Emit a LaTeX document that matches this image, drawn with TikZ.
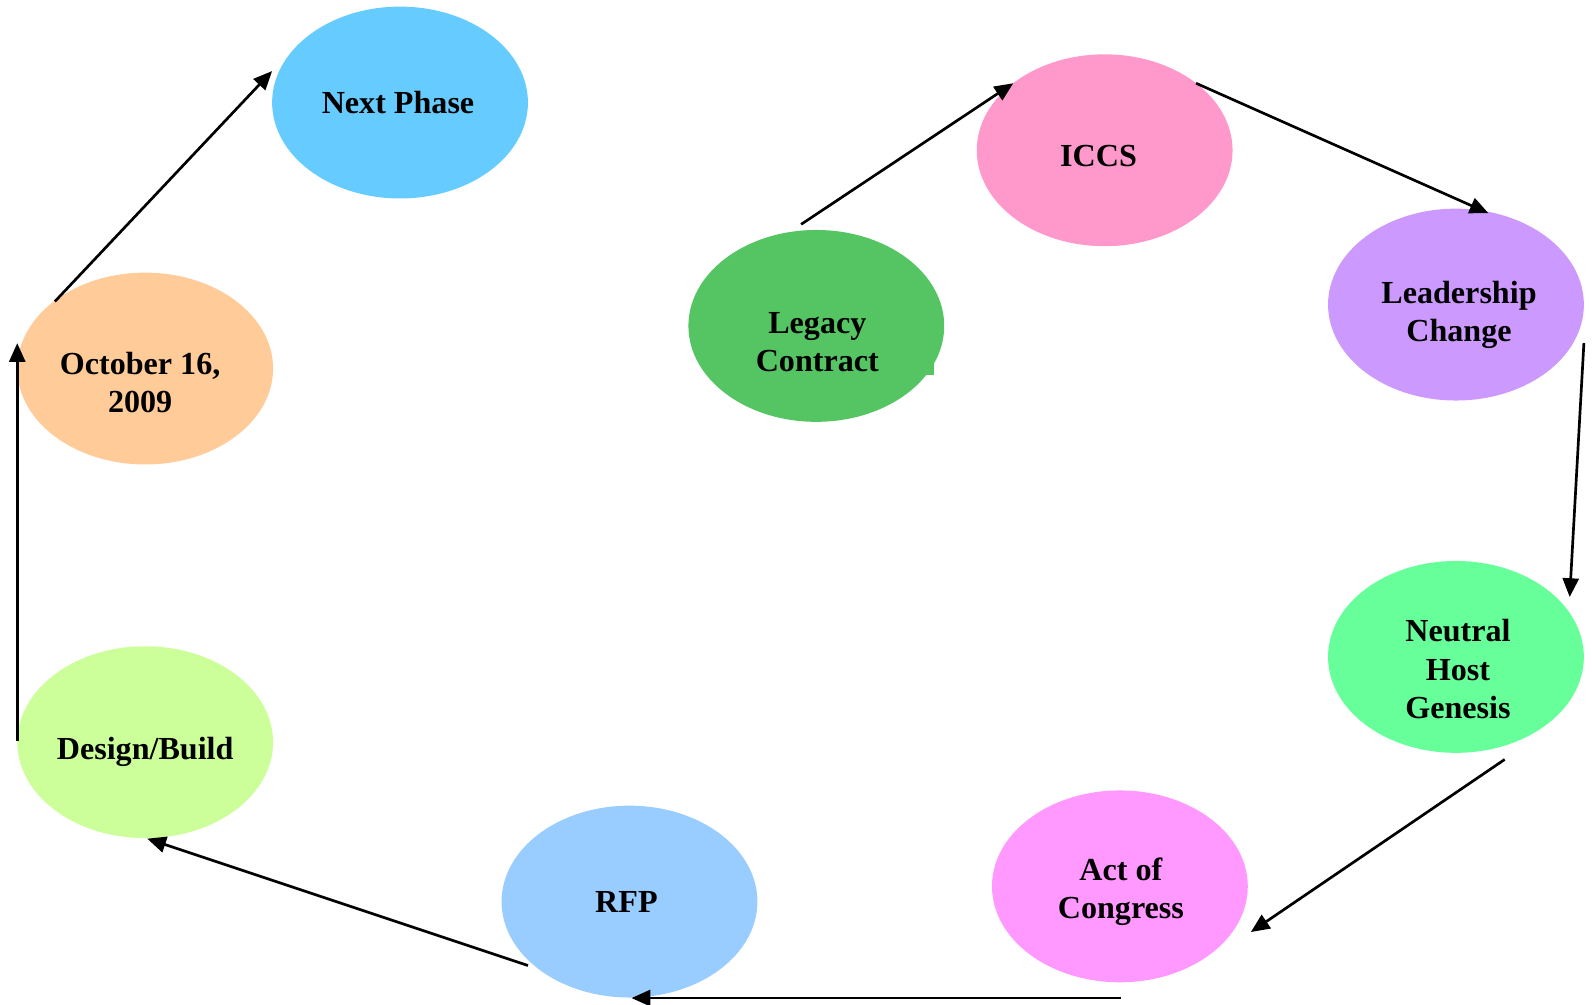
\documentclass[tikz,border=0pt]{standalone}
\usepackage{fontspec}
\setmainfont{Liberation Serif}
\usetikzlibrary{shapes.geometric,arrows.meta,calc}
\definecolor{cnext}{HTML}{66CCFF}
\definecolor{ciccs}{HTML}{FF99CC}
\definecolor{clegacy}{RGB}{85,196,99}
\definecolor{clead}{HTML}{CC99FF}
\definecolor{coct}{HTML}{FFCC99}
\definecolor{cneutral}{HTML}{66FF99}
\definecolor{cdesign}{HTML}{CCFF99}
\definecolor{crfp}{HTML}{99CCFF}
\definecolor{cact}{HTML}{FF99FF}
\tikzset{
  bubble/.style={ellipse, draw=none, inner sep=0pt, minimum width=5.04cm, minimum height=3.78cm},
  lbl/.style={font=\fontsize{18}{21.5}\selectfont\bfseries, align=center, inner sep=0pt, text=black},
  flow/.style={line width=1.5pt, -{Triangle[length=10.5pt,width=9pt]}}
}
\begin{document}
\begin{tikzpicture}[x=0.02cm, y=-0.02cm]
\useasboundingbox (0,0) rectangle (1568,989);
% ellipses
\node[bubble, fill=cnext]    (next)    at (394,101) {};
\node[bubble, fill=ciccs]    (iccs)    at (1088,148) {};
\node[bubble, fill=clegacy]  (legacy)  at (804,321) {};
\fill[clegacy] (695,300) rectangle (920,369);
\node[bubble, fill=clead]    (lead)    at (1434,300) {};
\node[bubble, fill=coct]     (oct)     at (143,363) {};
\node[bubble, fill=cneutral] (neutral) at (1434,647) {};
\node[bubble, fill=cdesign]  (design)  at (143,731) {};
\node[bubble, fill=crfp]     (rfp)     at (620,888) {};
\node[bubble, fill=cact]     (act)     at (1103,873) {};
% labels
\node[lbl] (tnext)    at (392,101) {Next Phase};
\node[lbl] (ticcs)    at (1082,154) {ICCS};
\node[lbl] (tlegacy)  at (805,337) {Legacy\\Contract};
\node[lbl] (tlead)    at (1437,310) {Leadership\\Change};
\node[lbl] (toct)     at (138,377) {October 16,\\2009};
\node[lbl] (tneutral) at (1436,659) {Neutral\\Host\\Genesis};
\node[lbl] (tdesign)  at (143,741) {Design/Build};
\node[lbl] (trfp)     at (617,888) {RFP};
\node[lbl] (tact)     at (1104,878) {Act of\\Congress};
% connectors
\draw[flow] ($(legacy.center)+(-15,-100)$) -- ($(iccs.center)+(-90,-66)$);
\draw[flow] ($(iccs.center)+(90,-66)$) -- ($(lead.center)+(32,-90)$);
\draw[flow] ($(lead.center)+(126,38)$) -- ($(neutral.center)+(112,-59)$);
\draw[flow] ($(neutral.center)+(48,101)$) -- ($(act.center)+(129,45)$);
\draw[flow] ($(act.center)+(1,110)$) -- ($(rfp.center)+(2,95)$);
\draw[flow] ($(rfp.center)+(-100,63)$) -- ($(design.center)+(2,95)$);
\draw[flow] ($(design.center)+(-126,-1)$) -- ($(oct.center)+(-126,-25)$);
\draw[flow] ($(oct.center)+(-89,-66)$) -- ($(next.center)+(-126,-31)$);
\end{tikzpicture}
\end{document}
